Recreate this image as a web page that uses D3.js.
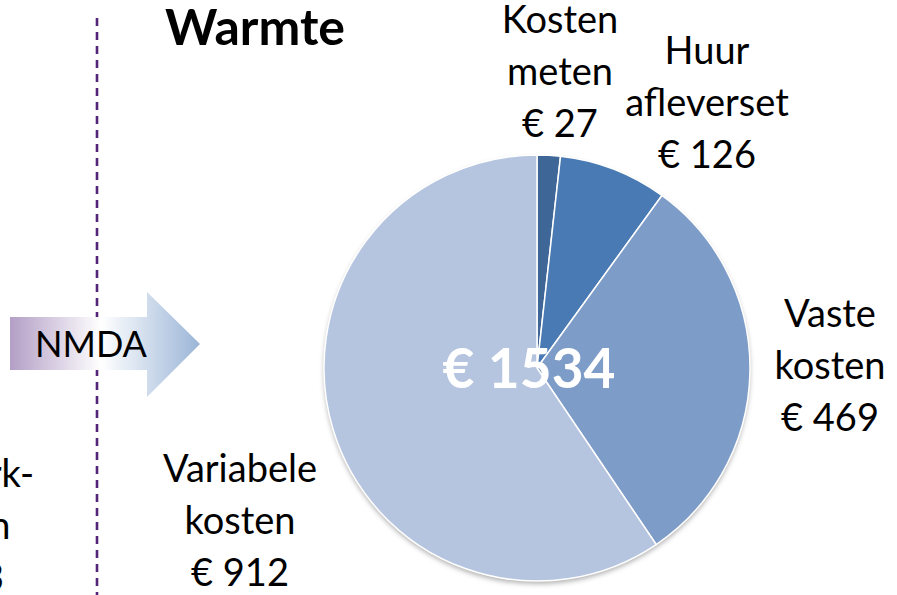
<!DOCTYPE html>
<meta charset="utf-8">
<script src="https://cdn.jsdelivr.net/npm/d3@7"></script>
<style>
  body { margin: 0; background: #fff; }
  text { font-family: Lato, "Open Sans", sans-serif; }
</style>
<div id="chart"></div>
<script>

// data
var categories = ["Kosten meten", "Huur afleverset", "Vaste kosten", "Variabele kosten"];
var values = [27, 126, 469, 912];
var labelLines = [["Kosten", "meten", "€ 27"], ["Huur", "afleverset", "€ 126"], ["Vaste", "kosten", "€ 469"], ["Variabele", "kosten", "€ 912"]];
var colors = ["#3e6697", "#4a7ab3", "#7e9cc8", "#b5c4df"];
var title = "Warmte";
var arrowLabel = "NMDA";
// label of the previous chart, mostly off the left edge
var prevLabel = ["Netwerk-", "kosten", "€ 263"];

var width = 897, height = 595;
var cx = 537, cy = 368, radius = 213;

var svg = d3.select("#chart")
  .append("svg")
    .attr("width", width)
    .attr("height", height)

var defs = svg.append("defs")

var grad = defs.append("linearGradient")
    .attr("id", "arrowGrad")
    .attr("x1", "0%").attr("x2", "100%")
grad.append("stop").attr("offset", "0%").attr("stop-color", "#b39fc6")
grad.append("stop").attr("offset", "48%").attr("stop-color", "#ffffff")
grad.append("stop").attr("offset", "100%").attr("stop-color", "#9bb5d7")

var shadow = defs.append("filter").attr("id", "shadow")
    .attr("x", "-10%").attr("y", "-10%").attr("width", "120%").attr("height", "120%")
shadow.append("feDropShadow")
    .attr("dx", 0).attr("dy", 3).attr("stdDeviation", 2.5)
    .attr("flood-color", "#000").attr("flood-opacity", 0.3)

// dashed separator
svg.append("line")
    .attr("x1", 97).attr("x2", 97)
    .attr("y1", 18).attr("y2", height)
    .style("stroke", "#55247a")
    .style("stroke-width", 2.6)
    .style("stroke-dasharray", "8,6")

// arrow
var arrow = d3.line()
svg.append("path")
    .attr("d", arrow([[10, 317], [147, 317], [147, 292], [200, 344], [147, 397], [147, 370], [10, 370]]) + "Z")
    .style("fill", "url(#arrowGrad)")

svg.append("text")
    .attr("x", 91)
    .attr("y", 357)
    .attr("text-anchor", "middle")
    .style("font-size", "36px")
    .style("fill", "#000")
    .text(arrowLabel)

// title
svg.append("text")
    .attr("x", 165)
    .attr("y", 45)
    .attr("textLength", 180)
    .attr("lengthAdjust", "spacingAndGlyphs")
    .style("font-size", "49px")
    .style("font-weight", "bold")
    .style("fill", "#000")
    .text(title)

// pie
var pie = d3.pie().sort(null).value(function(d) { return d; })
var arc = d3.arc().innerRadius(0).outerRadius(radius)
var arcs = pie(values)

var g = svg.append("g")
    .attr("transform", "translate(" + cx + "," + cy + ")")

g.append("circle")
    .attr("r", radius)
    .style("fill", "#b5c4df")
    .attr("filter", "url(#shadow)")

g.selectAll("path.slice")
  .data(arcs)
  .enter()
  .append("path")
    .attr("class", "slice")
    .attr("d", arc)
    .style("fill", function(d, i) { return colors[i]; })
    .style("stroke", "#fff")
    .style("stroke-width", 1.5)

g.append("text")
    .attr("x", -8)
    .attr("y", 20)
    .attr("text-anchor", "middle")
    .style("font-size", "55px")
    .style("font-weight", "bold")
    .style("fill", "#fff")
    .text("€ " + d3.sum(values))

// slice labels
var labelPos = [[560, 33], [707, 64], [830, 327], [240, 482]];
var lineH = 52;
labelLines.forEach(function(lines, i) {
  var t = svg.append("text")
      .attr("text-anchor", "middle")
      .style("font-size", "38px")
      .style("fill", "#000")
  lines.forEach(function(l, j) {
    t.append("tspan")
      .attr("x", labelPos[i][0])
      .attr("y", labelPos[i][1] + j * lineH)
      .text(l)
  })
})

var pt = svg.append("text")
    .attr("text-anchor", "middle")
    .style("font-size", "38px")
    .style("fill", "#000")
prevLabel.forEach(function(l, j) {
  pt.append("tspan")
    .attr("x", -45)
    .attr("y", 487 + j * lineH)
    .text(l)
})

</script>
